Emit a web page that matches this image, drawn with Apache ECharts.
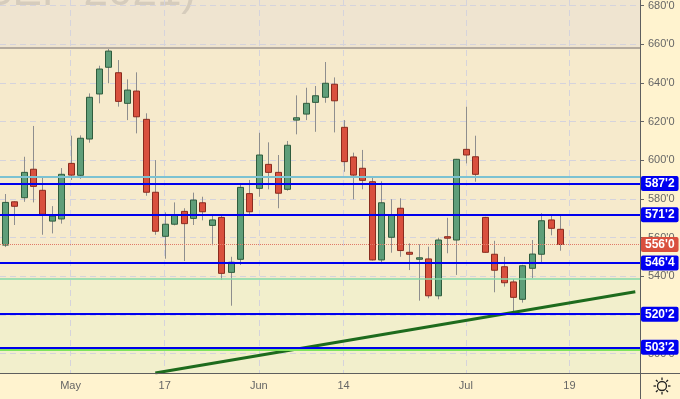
<!DOCTYPE html>
<html>
<head>
<meta charset="utf-8">
<script src="https://cdn.jsdelivr.net/npm/echarts@6/dist/echarts.min.js"></script>
<style>
html, body { margin: 0; padding: 0; background: #fff3cf; }
#chart { width: 680px; height: 399px; }
</style>
</head>
<body>
<div id="chart"></div>
<script>
// trading days, the last 8 are empty space right of the last bar
const dates = ['4/22','4/23','4/26','4/27','4/28','4/29','4/30',
  '5/3','5/4','5/5','5/6','5/7','5/10','5/11','5/12','5/13','5/14','5/17','5/18','5/19','5/20','5/21',
  '5/24','5/25','5/26','5/27','5/28',
  '6/1','6/2','6/3','6/4','6/7','6/8','6/9','6/10','6/11','6/14','6/15','6/16','6/17','6/18',
  '6/21','6/22','6/23','6/24','6/25','6/28','6/29','6/30',
  '7/1','7/2','7/6','7/7','7/8','7/9','7/12','7/13','7/14','7/15','7/16',
  '7/19','7/20','7/21','7/22','7/23','7/26','7/27','7/28'];
const tickLabels = { '5/3': 'May', '5/17': '17', '6/1': 'Jun', '6/14': '14', '7/1': 'Jul', '7/19': '19' };

const opens = [555.7, 577.9, 580.0, 594.6, 583.8, 568.0, 569.1, 597.6, 591.5, 610.1,
  633.2, 646.9, 644.1, 628.4, 634.7, 620.2, 582.8, 560.2, 566.4, 573.0,
  569.4, 577.4, 565.8, 569.9, 541.7, 548.4, 582.1, 584.8, 597.1, 593.0,
  584.3, 619.8, 622.9, 628.9, 631.5, 638.2, 616.1, 600.9, 595.1, 588.2,
  548.1, 559.7, 574.6, 552.0, 548.9, 548.6, 529.7, 560.0, 558.3, 604.8,
  601.0, 569.9, 551.0, 544.6, 536.8, 527.9, 543.8, 551.0, 568.6, 563.8];
const closes = [577.6, 575.6, 593.0, 585.8, 571.5, 570.6, 592.0, 591.6, 610.5, 631.5,
  646.0, 655.2, 629.4, 635.2, 621.5, 582.8, 562.8, 566.4, 571.1, 566.7,
  578.8, 572.8, 568.6, 541.2, 546.9, 585.3, 572.8, 601.9, 593.0, 582.3,
  606.9, 621.0, 628.4, 632.3, 638.7, 629.7, 598.5, 591.6, 588.9, 548.1,
  577.4, 571.0, 552.9, 551.0, 549.2, 529.7, 558.3, 559.3, 599.7, 601.9,
  592.0, 552.0, 542.8, 536.4, 528.9, 545.1, 551.1, 568.2, 564.3, 556.0];
const lows = [554.7, 566.0, 577.9, 577.6, 561.0, 561.7, 566.7, 589.1, 589.7, 608.2,
  628.4, 638.7, 626.7, 619.8, 613.0, 581.0, 561.0, 548.7, 565.8, 547.5,
  566.0, 568.4, 555.6, 537.8, 524.6, 545.5, 571.1, 580.5, 584.3, 574.6,
  583.6, 612.5, 619.8, 613.8, 628.7, 613.5, 593.3, 579.2, 584.3, 547.8,
  546.9, 551.8, 549.7, 542.9, 527.2, 528.4, 527.9, 551.5, 540.4, 597.6,
  588.2, 551.8, 531.5, 534.4, 521.0, 526.2, 538.7, 546.9, 560.7, 552.8];
const highs = [581.9, 578.2, 601.0, 616.8, 591.1, 575.7, 595.2, 611.8, 612.0, 633.5,
  647.7, 656.3, 650.6, 640.7, 644.3, 623.3, 599.3, 572.5, 577.6, 574.6,
  582.6, 580.5, 570.8, 571.6, 549.7, 587.0, 589.1, 613.3, 608.4, 601.9,
  609.1, 632.5, 636.4, 637.3, 649.6, 641.7, 619.8, 603.1, 604.5, 590.3,
  588.4, 579.2, 579.7, 556.6, 556.1, 554.9, 559.5, 569.7, 599.9, 626.7,
  611.8, 570.2, 557.9, 549.7, 538.3, 545.6, 558.3, 572.0, 571.6, 570.8];

// support / resistance levels (blue), last price, other guide lines
const levels = [587.25, 571.25, 546.5, 520.25, 503.25];
const lastPrice = 556;
const cyanLevel = 590.5;
const mintLevel = 538.2;
const limeLevel = 502;
const grayLevel = 656.8;
const trend = [['5/14', 490.1], ['7/28', 531.8]];

const fmt = v => Math.floor(v) + "'" + Math.round((v - Math.floor(v)) * 8);
const candleData = opens.map((o, i) => [i, o, closes[i], lows[i], highs[i]]);
const showTick = (i, v) => tickLabels[v] !== undefined;

const badge = (txt, bg) => ({
  show: true, position: 'end', distance: 1, formatter: txt,
  color: '#fff', fontWeight: 'bold', fontSize: 12, fontFamily: 'Liberation Sans',
  backgroundColor: bg, padding: [2, 4, 1, 4], borderRadius: 2
});

const chart = echarts.init(document.getElementById('chart'));
const option = {
  backgroundColor: '#fff3cf',
  animation: false,
  grid: [
    { left: 0, right: 40, top: 2.7, height: 351 },
    { left: 0, right: 40, top: 0, height: 373, show: true, backgroundColor: '#f2efcc', borderWidth: 0 }
  ],
  xAxis: [
    { type: 'category', gridIndex: 0, data: dates, show: false },
    {
      type: 'category', gridIndex: 1, data: dates, z: 2,
      axisLine: { show: false },
      axisTick: { interval: showTick, alignWithLabel: true, length: 5, lineStyle: { color: '#555' } },
      axisLabel: {
        interval: showTick, formatter: v => tickLabels[v] || '',
        color: '#666', fontSize: 11, fontFamily: 'Liberation Sans', margin: 7
      },
      splitLine: { show: true, interval: showTick, alignWithLabel: true, lineStyle: { color: '#d5d3dc', type: [6, 4] } }
    }
  ],
  yAxis: [
    {
      type: 'value', gridIndex: 0, position: 'right', min: 500, max: 680, interval: 20, z: 2,
      axisLine: { show: false },
      axisTick: { show: true, length: 4, lineStyle: { color: '#666' } },
      axisLabel: { formatter: v => v + "'0", color: '#666', fontSize: 11, fontFamily: 'Liberation Sans', margin: 8 },
      splitLine: { lineStyle: { color: '#d5d3dc', type: [6, 4] } }
    },
    { type: 'value', gridIndex: 1, min: 490.1, max: 681.4, show: false }
  ],
  series: [
    {
      type: 'line', xAxisIndex: 1, yAxisIndex: 1, data: [], z: 0.5, silent: true,
      markArea: {
        silent: true,
        data: [
          [{ yAxis: 681.4, itemStyle: { color: '#efe4d0' } }, { yAxis: grayLevel }],
          [{ yAxis: grayLevel, itemStyle: { color: '#f6eacc' } }, { yAxis: mintLevel }]
        ]
      }
    },
    {
      type: 'custom', xAxisIndex: 1, yAxisIndex: 1, z: 3,
      data: candleData,
      encode: { x: 0, y: [1, 2, 3, 4] },
      renderItem: function (params, api) {
        const i = api.value(0);
        const o = api.value(1), c = api.value(2);
        const pO = api.coord([i, o]);
        const pC = api.coord([i, c]);
        const pL = api.coord([i, api.value(3)]);
        const pH = api.coord([i, api.value(4)]);
        const x = Math.round(pO[0]) + 0.5;
        const up = c >= o;
        const top = Math.min(pO[1], pC[1]);
        const bot = Math.max(pO[1], pC[1]);
        return {
          type: 'group',
          children: [
            { type: 'line', shape: { x1: x, y1: pH[1], x2: x, y2: pL[1] }, style: { stroke: '#8e8e8e', lineWidth: 1 } },
            {
              type: 'rect',
              shape: { x: x - 3, y: top, width: 6, height: Math.max(bot - top, 1.5) },
              style: { fill: up ? '#5f9e79' : '#d9503e', stroke: up ? '#2f5c3d' : '#8a2b1e', lineWidth: 1 }
            }
          ]
        };
      },
      markLine: {
        symbol: 'none', silent: true,
        label: { show: false },
        data: [
          { yAxis: grayLevel, lineStyle: { color: '#b4aa9e', width: 2, type: 'solid' } },
          { yAxis: cyanLevel, lineStyle: { color: '#7cc2d2', width: 2, type: 'solid' } },
          { yAxis: mintLevel, lineStyle: { color: '#86d9a9', width: 1.5, type: 'solid' } },
          { yAxis: limeLevel, lineStyle: { color: '#7ee35c', width: 2, type: 'solid' } },
          { yAxis: lastPrice, lineStyle: { color: '#e07a68', width: 1, type: 'dotted' }, label: badge(fmt(lastPrice), '#d9503e') }
        ].concat(levels.map(v => ({
          yAxis: v, lineStyle: { color: '#0000ee', width: 2, type: 'solid' }, label: badge(fmt(v), '#0000f0')
        })))
      }
    },
    {
      type: 'line', xAxisIndex: 1, yAxisIndex: 1, z: 4, data: trend,
      symbol: 'none', silent: true,
      lineStyle: { color: '#1d6b1d', width: 3 }
    }
  ],
  graphic: [
    {
      type: 'text', x: 196, y: 15, z: 2,
      style: { text: '(SEP 2021)', align: 'right', verticalAlign: 'bottom', fill: '#d6ccbc', font: '44px "Liberation Sans"' }
    },
    { type: 'line', z: 10, shape: { x1: 0, y1: 373.5, x2: 680, y2: 373.5 }, style: { stroke: '#5e5e5e', lineWidth: 1 } },
    { type: 'line', z: 10, shape: { x1: 640.5, y1: 0, x2: 640.5, y2: 399 }, style: { stroke: '#5e5e5e', lineWidth: 1 } },
    {
      type: 'group', x: 662, y: 386, z: 10,
      children: [{ type: 'circle', shape: { cx: 0, cy: 0, r: 4.5 }, style: { fill: 'none', stroke: '#222', lineWidth: 1.3 } }]
        .concat([0, 1, 2, 3, 4, 5, 6, 7].map(k => {
          const a = k * Math.PI / 4;
          return {
            type: 'line',
            shape: { x1: Math.cos(a) * 6, y1: Math.sin(a) * 6, x2: Math.cos(a) * 8.5, y2: Math.sin(a) * 8.5 },
            style: { stroke: '#222', lineWidth: 1.3 }
          };
        }))
    }
  ]
};
chart.setOption(option);
window.onresize = () => chart.resize();
</script>
</body>
</html>
